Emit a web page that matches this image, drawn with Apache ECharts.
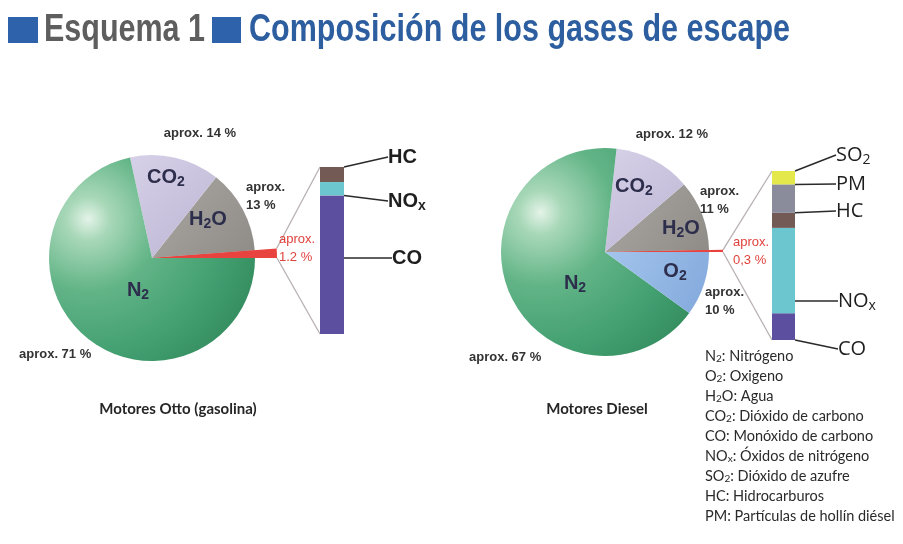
<!DOCTYPE html>
<html><head><meta charset="utf-8">
<script src="https://cdn.jsdelivr.net/npm/echarts@6/dist/echarts.min.js"></script>
<style>html,body{margin:0;padding:0;background:#fff}#c{width:903px;height:544px}</style>
</head><body><div id="c"></div>
<script>
// ---------- DATA ----------
const ottoGases = ['Contaminantes', 'H2O', 'CO2', 'N2'];
const ottoShares = [1.2, 13, 14, 71];
const dieselGases = ['Contaminantes', 'H2O', 'CO2', 'N2', 'O2'];
const dieselShares = [0.3, 11, 12, 67, 10];
const ottoPollutants = ['CO', 'NOx', 'HC'];            // bottom -> top
const ottoPollutantShares = [83, 8, 9];
const dieselPollutants = ['CO', 'NOx', 'HC', 'PM', 'SO2']; // bottom -> top
const dieselPollutantShares = [16, 51, 9, 17, 8];
const glossaryTerms = ['N2', 'O2', 'H2O', 'CO2', 'CO', 'NOx', 'SO2', 'HC', 'PM'];
const glossaryNames = ['Nitrógeno', 'Oxigeno', 'Agua', 'Dióxido de carbono', 'Monóxido de carbono',
  'Óxidos de nitrógeno', 'Dióxido de azufre', 'Hidrocarburos', 'Partículas de hollín diésel'];
const engineTitles = ['Motores Otto (gasolina)', 'Motores Diesel'];
const titleLead = 'Esquema 1';
const titleMain = 'Composición de los gases de escape';

// ---------- LAYOUT / STYLE ----------
const pieL = { c: [152, 258], r: 103, ext: 125, sep: '.' };
const pieR = { c: [605, 252], r: 104, ext: 118, sep: ',' };
const gridL = { left: 320, top: 167, width: 24, height: 167 };
const gridR = { left: 772, top: 171, width: 23, height: 169 };

const gasColors = {
  'Contaminantes': '#e8433e',
  'H2O': { type: 'linear', x: 0, y: 0, x2: 1, y2: 1, colorStops: [{ offset: 0, color: '#aaa7a2' }, { offset: 1, color: '#8f8c88' }] },
  'CO2': { type: 'linear', x: 0, y: 0, x2: 1, y2: 1, colorStops: [{ offset: 0, color: '#d6d0e8' }, { offset: 1, color: '#bdb5d3' }] },
  'O2': { type: 'linear', x: 0, y: 0, x2: 1, y2: 1, colorStops: [{ offset: 0, color: '#a3c4ec' }, { offset: 1, color: '#82a9dc' }] }
};
function greenFill(p) {
  return {
    type: 'radial', global: true, x: p.c[0] - 0.62 * p.r, y: p.c[1] - 0.38 * p.r, r: 1.75 * p.r,
    colorStops: [{ offset: 0, color: '#e4f3e8' }, { offset: 0.12, color: '#a8d8b8' }, { offset: 0.4, color: '#62b487' },
      { offset: 0.75, color: '#43a071' }, { offset: 1, color: '#358e60' }]
  };
}
const pollutantColors = { 'CO': '#5c4f9f', 'NOx': '#6cc6cf', 'HC': '#735a55', 'PM': '#8a8b9b', 'SO2': '#e5e84a' };

// label positions [x, y, align, lines]
const ottoNamePos = [null, [208, 219], [166, 177], [138, 290]];
const ottoPctPos = [[279, 248, 'left', 2], [246, 196, 'left', 2], [200, 133, 'center', 1], [19, 354, 'left', 1]];
const dieselNamePos = [null, [681, 228], [634, 186], [575, 283], [675, 271]];
const dieselPctPos = [[733, 251, 'left', 2], [700, 200, 'left', 2], [672, 134, 'center', 1], [469, 357, 'left', 1], [705, 301, 'left', 2]];
const ottoBarLabelPos = [[392, 258], [388, 201], [388, 157]];
const dieselBarLabelPos = [[838, 349], [838, 301], [836, 211], [836, 184], [836, 155]];

function chem(s) {
  let out = '';
  for (let i = 0; i < s.length; i++) {
    const ch = s[i];
    if (/\d/.test(ch) || (ch === 'x' && s[i - 1] === 'O')) out += '{s|' + ch + '}';
    else out += ch;
  }
  return out;
}
function subStyle(size, lh, color, weight, family) {
  return { fontSize: size, lineHeight: lh, verticalAlign: 'bottom', color: color, fontWeight: weight || 'normal', fontFamily: family };
}

const LAB = '"Liberation Sans", Arial, sans-serif';

function pieSeries(p, names, vals, namePos, pctPos) {
  const main = {
    type: 'pie', center: p.c, radius: [0, p.r], startAngle: 0, clockwise: false, silent: true,
    avoidLabelOverlap: false, animation: false, z: 2,
    itemStyle: { borderWidth: 0 },
    data: names.map((n, i) => ({
      name: n, value: vals[i],
      itemStyle: { color: n === 'N2' ? greenFill(p) : gasColors[n] },
      label: { show: i > 0 }
    })),
    label: {
      position: 'inside', formatter: q => chem(q.name), fontSize: 20, lineHeight: 24,
      fontWeight: 'bold', color: '#2d2e4c', fontFamily: LAB,
      rich: { s: subStyle(14, 12, '#2d2e4c', 'bold', LAB) }
    },
    labelLine: { show: false },
    labelLayout: q => {
      const pos = namePos[q.dataIndex];
      return pos ? { x: pos[0], y: pos[1], align: 'center', verticalAlign: 'middle' } : {};
    }
  };
  const ext = {
    type: 'pie', center: p.c, radius: [0, p.ext], startAngle: 0, clockwise: false, silent: true,
    avoidLabelOverlap: false, animation: false, z: 3,
    itemStyle: { borderWidth: 0 },
    data: names.map((n, i) => ({
      name: n, value: vals[i],
      itemStyle: { color: i === 0 ? gasColors['Contaminantes'] : 'rgba(0,0,0,0)' },
      label: { color: i === 0 ? '#e0423d' : '#333333', fontWeight: i === 0 ? 'normal' : 'bold' }
    })),
    label: {
      show: true, position: 'outside', fontSize: 13, lineHeight: 18, fontFamily: LAB, fontWeight: 'bold',
      formatter: q => {
        const v = String(q.value).replace('.', p.sep);
        return (pctPos[q.dataIndex][3] === 2 ? 'aprox.\n' : 'aprox. ') + v + ' %';
      }
    },
    labelLine: { show: false },
    labelLayout: q => {
      const pos = pctPos[q.dataIndex];
      return { x: pos[0], y: pos[1], align: pos[2], verticalAlign: 'middle' };
    }
  };
  return [main, ext];
}

function barSeries(names, vals, gi, stack, labelPos, family, weight) {
  return names.map((n, i) => ({
    type: 'bar', name: n, stack: stack, xAxisIndex: gi, yAxisIndex: gi, silent: true, animation: false,
    data: [vals[i]], barWidth: '100%',
    itemStyle: { color: pollutantColors[n] },
    label: {
      show: true, position: 'insideRight', formatter: chem(n), fontSize: 20, lineHeight: 24,
      color: '#1e1e1e', fontWeight: weight, fontFamily: family,
      rich: { s: subStyle(14, 12, '#1e1e1e', weight, family) }
    },
    labelLayout: { x: labelPos[i][0], y: labelPos[i][1], align: 'left', verticalAlign: 'middle' },
    labelLine: { show: true, lineStyle: { color: '#2a2a2a', width: 1.5 } }
  }));
}

const sum = a => a.reduce((x, y) => x + y, 0);

// connector lines from red wedge tips to bar corners
function connectors(p, valsFirst, total, g) {
  const ang = valsFirst / total * 2 * Math.PI;
  const tipTop = [p.c[0] + p.ext * Math.cos(ang), p.c[1] - p.ext * Math.sin(ang)];
  const tipBot = [p.c[0] + p.ext, p.c[1]];
  return [
    { type: 'line', silent: true, shape: { x1: tipTop[0], y1: tipTop[1], x2: g.left, y2: g.top }, style: { stroke: '#b9b1b1', lineWidth: 1.3 } },
    { type: 'line', silent: true, shape: { x1: tipBot[0], y1: tipBot[1], x2: g.left, y2: g.top + g.height }, style: { stroke: '#b9b1b1', lineWidth: 1.3 } }
  ];
}

const GL = 'Lato, "Open Sans", sans-serif';
const glossary = glossaryTerms.map((t, i) => ({
  type: 'text', silent: true, x: 705, y: 356 + i * 20,
  style: {
    text: chem(t) + ': ' + glossaryNames[i], fill: '#2a2a2a', font: '14.5px ' + GL,
    verticalAlign: 'middle', align: 'left',
    rich: { s: { fontSize: 10, lineHeight: 8, verticalAlign: 'bottom', fill: '#2a2a2a', fontFamily: 'Lato' } }
  }
}));

const captions = engineTitles.map((t, i) => ({
  type: 'text', silent: true, x: i === 0 ? 178 : 597, y: 409,
  style: { text: t, fill: '#262626', font: 'bold 15px ' + GL, align: 'center', verticalAlign: 'middle' }
}));

// title: condensed look by horizontal scaling of real text to the target widths
const TFONT = 'bold 38px "Liberation Sans", Arial, sans-serif';
const mctx = document.createElement('canvas').getContext('2d');
mctx.font = TFONT;
const leadScale = 161 / mctx.measureText(titleLead).width;
const mainScale = 541 / mctx.measureText(titleMain).width;
const titleGraphics = [
  { type: 'rect', silent: true, shape: { x: 8, y: 17, width: 30, height: 26 }, style: { fill: '#2e62ab' } },
  { type: 'text', silent: true, x: 44, y: 31, scaleX: leadScale,
    style: { text: titleLead, font: TFONT, fill: '#5e5e5e', align: 'left', verticalAlign: 'middle' } },
  { type: 'rect', silent: true, shape: { x: 212, y: 17, width: 29, height: 26 }, style: { fill: '#2e62ab' } },
  { type: 'text', silent: true, x: 249, y: 31, scaleX: mainScale,
    style: { text: titleMain, font: TFONT, fill: '#2d5e9f', align: 'left', verticalAlign: 'middle' } }
];

const chart = echarts.init(document.getElementById('c'), null, { renderer: 'canvas' });
chart.setOption({
  backgroundColor: '#ffffff',
  animation: false,
  grid: [
    { left: gridL.left, top: gridL.top, width: gridL.width, height: gridL.height },
    { left: gridR.left, top: gridR.top, width: gridR.width, height: gridR.height }
  ],
  xAxis: [
    { gridIndex: 0, type: 'category', data: ['Otto'], show: false },
    { gridIndex: 1, type: 'category', data: ['Diesel'], show: false }
  ],
  yAxis: [
    { gridIndex: 0, type: 'value', min: 0, max: sum(ottoPollutantShares), show: false },
    { gridIndex: 1, type: 'value', min: 0, max: sum(dieselPollutantShares), show: false }
  ],
  series: [
    ...pieSeries(pieL, ottoGases, ottoShares, ottoNamePos, ottoPctPos),
    ...pieSeries(pieR, dieselGases, dieselShares, dieselNamePos, dieselPctPos),
    ...barSeries(ottoPollutants, ottoPollutantShares, 0, 'otto', ottoBarLabelPos, LAB, 'bold'),
    ...barSeries(dieselPollutants, dieselPollutantShares, 1, 'diesel', dieselBarLabelPos, '"Open Sans", sans-serif', 'normal')
  ],
  graphic: [
    ...titleGraphics,
    ...connectors(pieL, ottoShares[0], sum(ottoShares), gridL),
    ...connectors(pieR, dieselShares[0], sum(dieselShares), gridR),
    ...glossary,
    ...captions
  ]
});
</script></body></html>
